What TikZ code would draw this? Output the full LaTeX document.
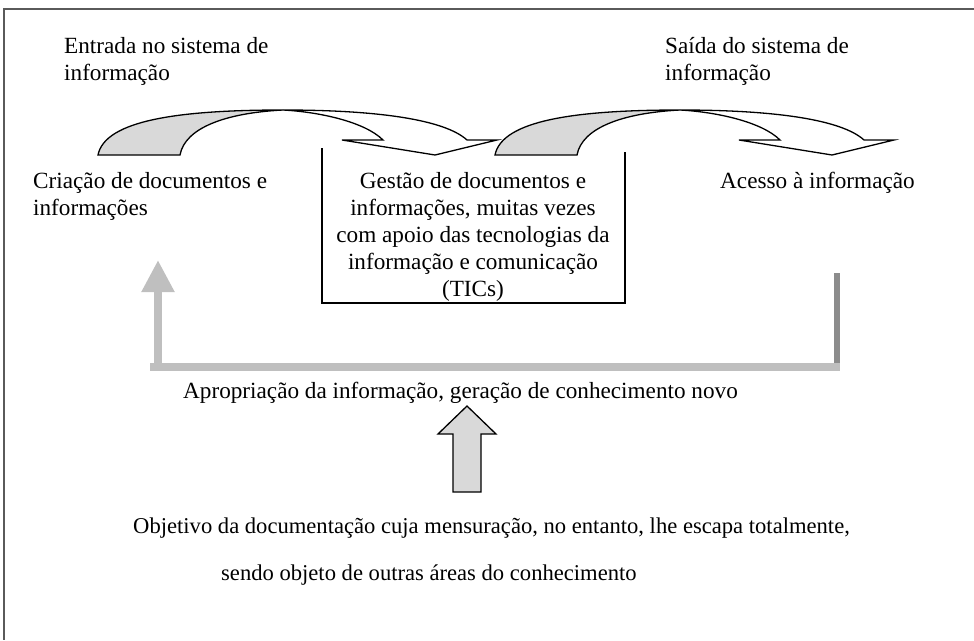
\documentclass[tikz,border=0pt]{standalone}
\usepackage{fontspec}
\setmainfont{Liberation Serif}
\usetikzlibrary{arrows.meta}
\definecolor{arrowgray}{HTML}{D9D9D9}
\definecolor{bargray}{HTML}{BFBFBF}
\definecolor{darkbar}{HTML}{8C8C8C}
\definecolor{framegray}{HTML}{5A5A5A}
\tikzset{
  txt/.style={font=\fontsize{23.2}{27}\selectfont, inner sep=0pt},
  smalltxt/.style={font=\fontsize{22.6}{27}\selectfont, inner sep=0pt},
  shapeline/.style={draw=black, line width=1.3pt, line join=miter},
  curvedarrow/.pic={
    \draw[shapeline, fill=arrowgray] (98,155) .. controls (105,120) and (180,110) .. (283,110)
      .. controls (225,113) and (185,128) .. (180,155) -- cycle;
    \draw[shapeline, fill=white] (283,110) .. controls (380,110) and (445,120) .. (467,140)
      -- (497,140) -- (435,155) -- (342,140) -- (383,140)
      .. controls (365,122) and (320,112) .. (283,110) -- cycle;
  },
  graybar/.style={draw=bargray, line width=8pt},
  darkgraybar/.style={draw=darkbar, line width=6pt},
  boxline/.style={draw=black, line width=1.3pt}
}
\begin{document}
\begin{tikzpicture}[x=1pt,y=-1pt]
\useasboundingbox (0,0) rectangle (974,640);
% frame
\draw[framegray, line width=2pt] (974,9) -- (4,9) -- (4,640);
% texts
\node[txt, anchor=base west] (entrada1) at (64,53) {Entrada no sistema de};
\node[txt, anchor=base west] (entrada2) at (64,80) {informação};
\node[txt, anchor=base west] (saida1) at (665,53) {Saída do sistema de};
\node[txt, anchor=base west] (saida2) at (665,80) {informação};
\node[txt, anchor=base west] (criacao1) at (33,188) {Criação de documentos e};
\node[txt, anchor=base west] (criacao2) at (33,215) {informações};
\node[txt, anchor=base west] (acesso) at (720,188) {Acesso à informação};
\node[txt, anchor=base] (gestao1) at (473,188) {Gestão de documentos e};
\node[txt, anchor=base] (gestao2) at (473,215) {informações, muitas vezes};
\node[txt, anchor=base] (gestao3) at (473,242) {com apoio das tecnologias da};
\node[txt, anchor=base] (gestao4) at (473,269) {informação e comunicação};
\node[txt, anchor=base] (gestao5) at (473,296) {(TICs)};
\node[txt, anchor=base west] (aprop) at (183,398) {Apropriação da informação, geração de conhecimento novo};
\node[smalltxt, anchor=base west] (objetivo1) at (133,533) {Objetivo da documentação cuja mensuração, no entanto, lhe escapa totalmente,};
\node[smalltxt, anchor=base west] (objetivo2) at (221,580) {sendo objeto de outras áreas do conhecimento};
% box around the middle text
\coordinate (boxTL) at (322,148);
\coordinate (boxBL) at (322,303);
\coordinate (boxBR) at (625,303);
\coordinate (boxTR) at (625,152);
\draw[boxline] (boxTL) -- (boxBL) -- (boxBR) -- (boxTR);
% curved arrows
\pic at (0,0) {curvedarrow};
\pic at (397,0) {curvedarrow};
% feedback bars
\coordinate (barL) at (150,367);
\coordinate (barR) at (840,367);
\coordinate (upfoot) at (158,367);
\coordinate (uptip) at (158,260);
\coordinate (rfoot) at (837,367);
\coordinate (rtop) at (837,273);
\draw[darkgraybar] (rfoot) -- (rtop);
\draw[graybar] (barL) -- (barR);
\draw[graybar, -{Triangle[width=31pt,length=32pt]}] (upfoot) -- (uptip);
% big up arrow
\draw[shapeline, fill=arrowgray] (453,492) -- (453,434) -- (438,434) -- (467,406)
  -- (496,434) -- (481,434) -- (481,492) -- cycle;
\end{tikzpicture}
\end{document}
